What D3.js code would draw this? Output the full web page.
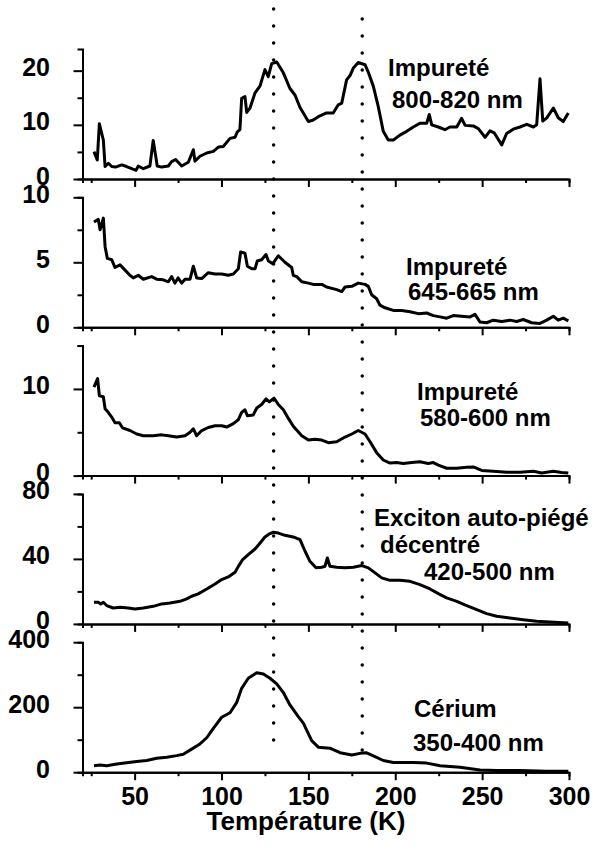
<!DOCTYPE html>
<html>
	<head>
		<meta charset="utf-8">
		<script type="text/javascript" src="https://d3js.org/d3.v7.min.js"></script>
		<style>
			body { margin: 0; background: #fff; }
			text { font-family: "Liberation Sans", Arial, Helvetica, sans-serif; font-weight: bold; fill: #000; }
		</style>
	</head>
	<body>
		<svg width="594" height="852"></svg>
		<script type="text/javascript">
		/** data, one pair of arrays per panel (temperature K / intensity) **/
		var temps1 = [26.6,28.5,29.7,32,33,34.9,36.8,39,42.6,45.4,48.3,50.8,52.1,55,58.8,60.7,62,63,65.5,69.4,71.3,73.6,77.1,80.9,83.8,84.7,87.6,91.5,95.3,98.2,101,104.9,107.8,109.1,110.6,111.6,113.5,114.5,116.4,119.3,122.2,125,126.9,128.9,131.8,135.6,139.4,142.3,145.2,150,152.8,155.7,160.5,164.3,167.2,169.2,172,174,175.9,178.7,182.6,184.5,187.4,190.2,193.1,196,198.9,202.7,206.6,210.4,214.2,218.1,219.6,221,224.8,228.6,231.5,235.4,238.2,240.2,244.9,247.8,251.7,254.5,257,261.3,264.1,267.9,271.8,275.7,279.5,281.4,283.3,284.9,287.2,291,293.8,296.7,299.6];
		var vals1  = [5.05,3.5,10.2,7.2,2.3,2.9,2.3,2.2,2.6,2.3,1.9,1.6,2.4,1.9,2.4,7.1,4.5,2.4,2.2,2.4,3.2,3.6,2.4,3.1,5.4,3.3,4.2,4.8,5.1,5.9,6.0,7.5,7.7,8.7,9.1,14.9,15.2,12.3,13.1,15.9,17.2,20.2,18.9,21.3,21.6,19.6,16.7,15.5,13.2,10.6,10.9,11.5,12.2,12.2,13.7,14.0,18.3,19.1,20.5,21.5,21.1,19.7,17.1,13.4,8.8,7.2,7.2,8.1,8.8,9.6,10.3,10.3,11.9,10.0,9.6,9.1,9.6,9.6,11.2,9.9,9.8,9.3,7.7,8.9,8.5,6.3,8.4,9.2,9.6,10.1,9.6,10.0,18.5,10.7,11.3,13.1,11.3,10.6,12.2];

		var temps2 = [26.6,29.1,30.1,32,33,34.3,36.8,38.7,41.6,44.5,47.3,49.2,52.1,55,59.8,62.7,66.5,69.4,71.3,73.2,75,77.1,79,81.9,83.8,85.7,88.6,92.4,96.3,100.1,103.9,106.8,109.7,111,113.5,114.9,117.4,119.3,120.6,123.1,125.6,127,129.5,132.7,136.5,140.4,141.3,143.3,146.2,150,152.8,157.7,160.5,166.3,169.2,171.1,175,178.7,182.6,184.5,186.4,189.3,191.2,194.1,198.9,203.7,208.5,213.3,218.1,221.9,225.8,229.6,233.4,238.2,243,245.9,248.8,252.6,256.4,261.3,266,269.9,273.7,278.5,283.3,287.2,291,293.8,296.7,299.6];
		var vals2  = [8.1,8.3,7.5,8.4,6.2,5.3,5.2,4.6,4.8,4.4,4.0,3.8,4.0,3.7,3.9,3.7,3.65,3.5,3.9,3.4,3.8,3.4,3.7,3.7,4.7,3.8,3.75,4.2,4.1,4.1,4.0,4.1,4.5,5.8,5.7,4.7,4.5,4.5,5.1,5.2,5.6,5.1,4.9,5.5,5.0,4.6,4.0,3.9,3.5,3.4,3.3,3.3,3.1,2.9,2.75,3.1,3.15,3.4,3.3,3.15,2.5,2.2,1.7,1.5,1.3,1.3,1.2,1.05,1.1,0.9,0.8,0.7,0.9,0.85,0.8,1.0,0.4,0.35,0.55,0.45,0.55,0.45,0.6,0.35,0.3,0.55,0.85,0.55,0.7,0.5];

		var temps3 = [26.6,28.7,29.7,32,33,34.8,36.8,38.7,41.2,43.1,47.3,51.2,55,60.7,65.6,69.4,74.2,79,81.9,83.8,85.7,88.6,92.4,96.3,100.1,103,106.8,109.7,111.6,113.5,114.9,118.3,120.3,123.1,125.6,127.5,130.2,132.7,135.6,138.5,141.3,146.2,150,153.8,157.7,161.5,166.3,171.1,175,178.7,182.6,185.5,189.3,193.1,197,200.8,204.6,209.5,214.2,219,221.9,224.8,229.6,235.4,241.1,244.9,249.8,256.4,264.1,271.8,279.5,284.3,291,295.8,299.6];
		var vals3  = [10.2,11.2,9.2,9.1,7.7,7.3,6.75,6.1,6.1,5.5,5.2,4.8,4.6,4.6,4.7,4.6,4.45,4.6,5.0,5.4,4.6,5.2,5.55,5.75,5.75,5.6,6.0,6.45,7.3,7.6,6.9,7.0,7.8,8.2,8.85,8.5,8.95,8.2,7.6,6.6,5.7,4.6,4.1,4.2,4.1,3.8,3.9,4.45,4.8,5.2,4.8,3.9,2.65,1.8,1.45,1.5,1.4,1.5,1.6,1.4,1.5,1.2,0.85,0.85,0.95,1.0,0.6,0.5,0.4,0.4,0.5,0.3,0.5,0.35,0.3];

		var temps4 = [26.6,29.1,30.5,32,33.9,37.7,41.6,46.4,50.2,55,60.7,65.6,70.4,76.1,80,82.8,86.6,91.5,96.3,100.1,103.9,107.8,109.7,112.2,115.4,119.3,122.2,125,127.9,129.8,132.7,136.5,141.3,145.2,148.1,150.9,154.4,157.7,159.6,160.9,162.4,166.3,171.1,175.9,180.8,184.5,188.4,192.2,197,202.7,208.5,214.2,220,224.8,229.6,235.4,241.1,246.9,252.6,258.4,266,273.7,281.4,289.1,299.6];
		var vals4  = [13.3,13.3,12.3,13.3,11.3,9.8,10.2,9.8,9.2,9.8,10.8,12.3,12.9,13.9,15.4,17.0,18.5,21.5,24.6,27.3,28.9,31.8,35.4,39.6,42.6,46.1,49.8,53.5,55.6,56.4,55.9,54.5,53.5,51.9,44.7,38.5,34.5,34.9,35.5,40.6,35.5,34.9,34.5,34.9,35.9,34.5,31.4,28.3,26.8,26.8,26.2,24.2,21.5,18.6,16.0,13.9,11.3,8.8,6.3,4.7,3.7,2.6,1.6,1.1,0.6];

		var temps5 = [26.6,30.1,33.9,39.7,45.4,51.2,56.9,62.7,68.5,74.2,78,82.8,87.6,91.5,95.3,100.1,104.9,108.7,111.6,115.4,120.3,124.1,127.9,131.8,135.6,139.4,144.2,147.1,151.9,155.7,162.4,168.2,175,179.7,183.2,187.4,193.1,198.9,210.4,218.1,225.8,237.3,248.8,258.4,271.8,287.2,299.6];
		var vals5  = [20,22,20,25,29,33,36,43,46,51,55,71,87,106,135,169,183,214,258,289,306,302,289,272,245,207,171,151,97,77,74,60,53,58,60,50,36,30,30,28,20,15,7,5,5,3,3];

		var seriesTemps  = [temps1, temps2, temps3, temps4, temps5];
		var seriesValues = [vals1, vals2, vals3, vals4, vals5];

		/** axes definition **/
		var xDomain = [20, 300];
		var xMajor = [50, 100, 150, 200, 250, 300];
		var xMinor = [25, 75, 125, 175, 225, 275];
		var yDomains = [[0, 24], [0, 10], [0, 15], [0, 80], [0, 400]];
		var yMajor = [[0, 10, 20], [0, 5, 10], [0, 10], [0, 40, 80], [0, 200, 400]];
		var yMinor = [[5, 15], [2.5, 7.5], [5, 15], [20, 60], [100, 300]];
		var markerTemps = [130, 181];
		var xTitle = "Température (K)";

		var panelLabels = [
			["Impureté", "800-820 nm"],
			["Impureté", "645-665 nm"],
			["Impureté", "580-600 nm"],
			["Exciton auto-piégé", "décentré", "420-500 nm"],
			["Cérium", "350-400 nm"]
		];

		/** layout (pixels) **/
		var left = 82.5, right = 569, firstTop = 49, pitch = 148.3, panelH = 130;
		var labelPos = [
			[[388, 75.5], [392, 108]],
			[[406, 275], [408, 300]],
			[[417, 400], [420, 426]],
			[[374, 526], [380, 553], [424, 579.5]],
			[[414, 716.5], [413, 750.5]]
		];
		var markerY = [[9, 754], [19, 764]];

		var svg = d3.select("svg");
		var x = d3.scaleLinear().domain(xDomain).range([left, right]);

		seriesValues.forEach(function(vals, i) {
			var top = firstTop + i * pitch,
			    bottom = top + panelH;
			var y = d3.scaleLinear().domain(yDomains[i]).range([bottom, top]);

			var g = svg.append("g");

			/** x axis: minor then major ticks **/
			g.append("g")
			  .attr("transform", "translate(0," + bottom + ")")
			  .call(d3.axisBottom(x).tickValues(xMinor).tickSize(4).tickFormat(""))
			  .call(styleAxis);
			var xa = g.append("g")
			  .attr("transform", "translate(0," + bottom + ")")
			  .call(d3.axisBottom(x).tickValues(xMajor).tickSize(8).tickSizeOuter(0).tickPadding(7.5)
			        .tickFormat(i === seriesValues.length - 1 ? d3.format("d") : ""))
			  .call(styleAxis);
			xa.selectAll("text").style("font-size", "25px");

			/** y axis **/
			g.append("g")
			  .attr("transform", "translate(" + left + ",0)")
			  .call(d3.axisLeft(y).tickValues(yMinor[i]).tickSize(5).tickFormat(""))
			  .call(styleAxis);
			var ya = g.append("g")
			  .attr("transform", "translate(" + left + ",0)")
			  .call(d3.axisLeft(y).tickValues(yMajor[i]).tickSize(9).tickSizeOuter(0).tickPadding(23.5)
			        .tickFormat(d3.format("d")))
			  .call(styleAxis);
			ya.selectAll("text").style("font-size", "25px").attr("dy", "0.2em");

			/** curve **/
			var pts = vals.map(function(v, k) { return [seriesTemps[i][k], v]; });
			g.append("path")
			  .datum(pts)
			  .attr("fill", "none")
			  .attr("stroke", "#000")
			  .attr("stroke-width", 3)
			  .attr("stroke-linejoin", "round")
			  .attr("d", d3.line()
			      .x(function(d) { return x(d[0]); })
			      .y(function(d) { return y(d[1]); }));

			/** panel labels **/
			panelLabels[i].forEach(function(t, k) {
				g.append("text")
				  .attr("x", labelPos[i][k][0])
				  .attr("y", labelPos[i][k][1])
				  .style("font-size", "24px")
				  .text(t);
			});
		});

		/** dotted reference lines **/
		markerTemps.forEach(function(t, k) {
			svg.append("line")
			  .attr("x1", x(t)).attr("x2", x(t))
			  .attr("y1", markerY[k][0]).attr("y2", markerY[k][1])
			  .attr("stroke", "#000")
			  .attr("stroke-width", 3.5)
			  .attr("stroke-linecap", "round")
			  .attr("stroke-dasharray", "0,17");
		});

		svg.append("text")
		  .attr("x", 306)
		  .attr("y", 830)
		  .attr("text-anchor", "middle")
		  .style("font-size", "26px")
		  .text(xTitle);

		function styleAxis(g) {
			g.select(".domain").attr("stroke", "#000").attr("stroke-width", 2);
			g.selectAll("line").attr("stroke", "#000").attr("stroke-width", 2);
		}
		</script>
	</body>
</html>
